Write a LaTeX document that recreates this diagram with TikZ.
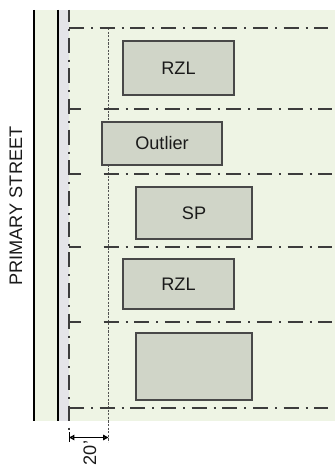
\documentclass[tikz,border=0pt]{standalone}
\usepackage{fontspec}
\usetikzlibrary{arrows.meta}
\setmainfont{Liberation Sans}
\definecolor{lotgreen}{HTML}{EEF4E4}
\definecolor{bldg}{HTML}{D0D5C8}
\definecolor{band}{HTML}{E4E4E8}
\definecolor{ink}{HTML}{1A1A1A}
\tikzset{
  bldgbox/.style={draw=ink!80,fill=bldg,line width=0.8pt,inner sep=0pt,font=\fontsize{13.6pt}{16pt}\selectfont,text=ink},
  lotline/.style={draw=ink!85,line width=0.85pt,dash pattern=on 11.25pt off 5.25pt on 1.5pt off 5pt},
  tickline/.style={draw=ink!85,line width=0.85pt},
  setback/.style={draw=ink!75,line width=0.7pt,dash pattern=on 1.6pt off 1.1pt},
}
\begin{document}
\begin{tikzpicture}[x=0.75pt,y=-0.75pt]
\useasboundingbox (0,0) rectangle (335,466);
\fill[lotgreen] (34,10) rectangle (335,421);
\fill[band] (58,10) rectangle (69,421);
\draw[black,line width=1pt] (34,10) -- (34,421);
\draw[black,line width=1.4pt] (58,10) -- (58,421);
\draw[lotline,dash phase=2.25pt] (69,10) -- (69,431);
\coordinate (dimTop) at (108.5,28);
\coordinate (dimBot) at (108.5,442);
\draw[setback] (dimTop) -- (dimBot);
\draw[lotline] (69,28) -- (328,28);
\draw[lotline] (69,408) -- (328,408);
\draw[tickline] (69,408) -- (69,421);
\foreach \y in {109,174,247,322}{
  \draw[tickline] (69,\y) -- (81,\y);
  \draw[lotline] (103.5,\y) -- (332,\y);
}
\node[bldgbox,minimum width=83.25pt,minimum height=40.5pt] (rzla) at (178.5,68) {RZL};
\node[bldgbox,minimum width=90pt,minimum height=32.25pt] (outlier) at (162,143.5) {Outlier};
\node[bldgbox,minimum width=87pt,minimum height=39pt] (sp) at (194,213) {SP};
\node[bldgbox,minimum width=83.25pt,minimum height=37.5pt] (rzlb) at (178.5,284) {RZL};
\node[bldgbox,minimum width=87pt,minimum height=50.25pt] (blank) at (194,366.5) {};
\node[rotate=90,font=\fontsize{13.6pt}{16pt}\selectfont,text=ink] (street) at (16,206) {PRIMARY STREET};
\coordinate (dl) at (69,437.5);
\coordinate (dr) at (108.5,437.5);
\draw[black,line width=0.7pt] (69,432) -- (69,442);
\draw[black,line width=1pt,{Triangle[open,length=4pt,width=4pt]}-{Triangle[open,length=4pt,width=4pt]}] (dl) -- (dr);
\node[rotate=90,font=\fontsize{13.6pt}{16pt}\selectfont,text=ink] (dim) at (90,453) {20'};
\end{tikzpicture}
\end{document}
